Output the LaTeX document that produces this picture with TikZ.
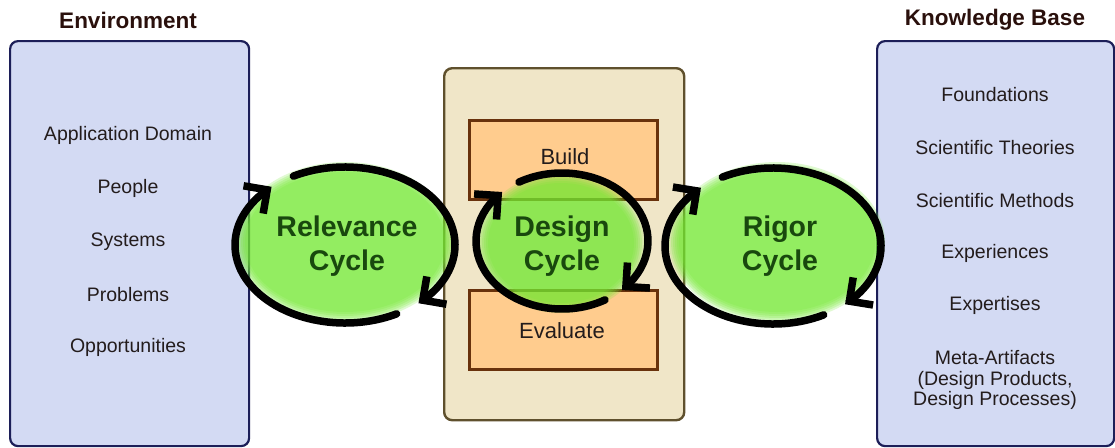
\documentclass[tikz,border=0pt]{standalone}
\usepackage{fontspec}
\setmainfont{Liberation Sans}
\usetikzlibrary{decorations.markings}

\definecolor{panelblue}{RGB}{211,218,243}
\definecolor{paneledge}{RGB}{28,30,88}
\definecolor{tanfill}{RGB}{240,230,200}
\definecolor{tanedge}{RGB}{95,80,45}
\definecolor{orangefill}{RGB}{255,204,142}
\definecolor{orangeedge}{RGB}{105,50,12}
\definecolor{cyclegreen}{RGB}{116,232,51}
\definecolor{cycletext}{RGB}{25,72,14}
\definecolor{headtext}{RGB}{42,16,12}
\definecolor{itemtext}{RGB}{35,28,28}

\tikzset{
  panel/.style={draw=paneledge, line width=2.2pt, fill=panelblue,
    rounded corners=8pt, anchor=north west, inner sep=0pt},
  centrebox/.style={draw=tanedge, line width=2.4pt, fill=tanfill,
    rounded corners=8pt, anchor=north west, inner sep=0pt},
  activity/.style={draw=orangeedge, line width=3.4pt, fill=orangefill,
    anchor=north west, inner sep=0pt, minimum width=188pt, minimum height=79pt},
  heading/.style={font=\fontsize{22.5}{26}\selectfont\bfseries, text=headtext},
  item/.style={font=\fontsize{19.5}{20.5}\selectfont, text=itemtext, align=center},
  acttext/.style={font=\fontsize{22}{26}\selectfont, text=itemtext},
  cyclelabel/.style={font=\fontsize{28.5}{34}\selectfont\bfseries, text=cycletext,
    align=center},
  % thick arc finished by a right-angled chevron head
  cyclearrow/.style={line width=7.5pt, line cap=round, draw=black,
    postaction={decorate, decoration={markings,
      mark=at position 1 with {
        \draw[line width=7.5pt, line cap=butt, line join=miter]
          (-17pt,17pt) -- (0pt,0pt) -- (-17pt,-17pt);}}}},
  glow/.style={fill=cyclegreen, opacity=0.22}
}

\begin{document}
\begin{tikzpicture}[x=1pt,y=-1pt]
\useasboundingbox (0,0) rectangle (1115,447);

% side panels and the central design box
\node[panel, minimum width=239pt, minimum height=405pt] (env) at (9,40) {};
\node[panel, minimum width=237pt, minimum height=405pt] (kb) at (876,40) {};
\node[centrebox, minimum width=240pt, minimum height=352pt] (design) at (443,67) {};
\node[activity] (buildbox) at (468,119) {};
\node[activity] (evalbox) at (468,289) {};

% headings
\node[heading] (envtitle) at (128,20) {Environment};
\node[heading] (kbtitle) at (995,20) {Knowledge Base};

% environment items
\node[item] (e1) at (128,135.5) {Application Domain};
\node[item] (e2) at (128,188.5) {People};
\node[item] (e3) at (128,241.5) {Systems};
\node[item] (e4) at (128,294.5) {Problems};
\node[item] (e5) at (128,347.5) {Opportunities};

% knowledge base items
\node[item] (k1) at (995,95) {Foundations};
\node[item] (k2) at (995,148) {Scientific Theories};
\node[item] (k3) at (995,200.5) {Scientific Methods};
\node[item] (k4) at (995,253) {Experiences};
\node[item] (k5) at (995,305.5) {Expertises};
\node[item] (k6) at (995,380) {Meta-Artifacts\\(Design Products,\\Design Processes)};

% activity labels
\node[acttext] (build) at (565,157) {Build};
\node[acttext] (evaluate) at (562,331) {Evaluate};

% soft green discs behind the cycle labels
\coordinate (relg) at (345,242);
\coordinate (desg) at (561,243);
\coordinate (rigg) at (777,242);
\foreach \k in {0,...,5}{
  \fill[glow] (relg) ellipse [x radius=110-2*\k, y radius=80-2*\k];
  \fill[glow] (desg) ellipse [x radius=83-2*\k, y radius=70-2*\k];
  \fill[glow] (rigg) ellipse [x radius=108-2*\k, y radius=80-2*\k];
}

% cycle labels
\node[cyclelabel] (relevance) at (347,246) {Relevance\\Cycle};
\node[cyclelabel] (designcyc) at (562,246) {Design\\Cycle};
\node[cyclelabel] (rigor) at (780,246) {Rigor\\Cycle};

% circular arrows around each cycle
\coordinate (rela) at (345,245);
\coordinate (desa) at (562,241);
\coordinate (riga) at (773,246);

\draw[cyclearrow] ([shift={(-118:110 and 78)}]rela)
  arc[start angle=-118, end angle=45, x radius=110, y radius=78];
\draw[cyclearrow] ([shift={(62:110 and 78)}]rela)
  arc[start angle=62, end angle=225, x radius=110, y radius=78];

\draw[cyclearrow] ([shift={(-120:86 and 68)}]desa)
  arc[start angle=-120, end angle=42, x radius=86, y radius=68];
\draw[cyclearrow] ([shift={(60:86 and 68)}]desa)
  arc[start angle=60, end angle=222, x radius=86, y radius=68];

\draw[cyclearrow] ([shift={(-118:108 and 78)}]riga)
  arc[start angle=-118, end angle=45, x radius=108, y radius=78];
\draw[cyclearrow] ([shift={(62:108 and 78)}]riga)
  arc[start angle=62, end angle=225, x radius=108, y radius=78];
\end{tikzpicture}
\end{document}
